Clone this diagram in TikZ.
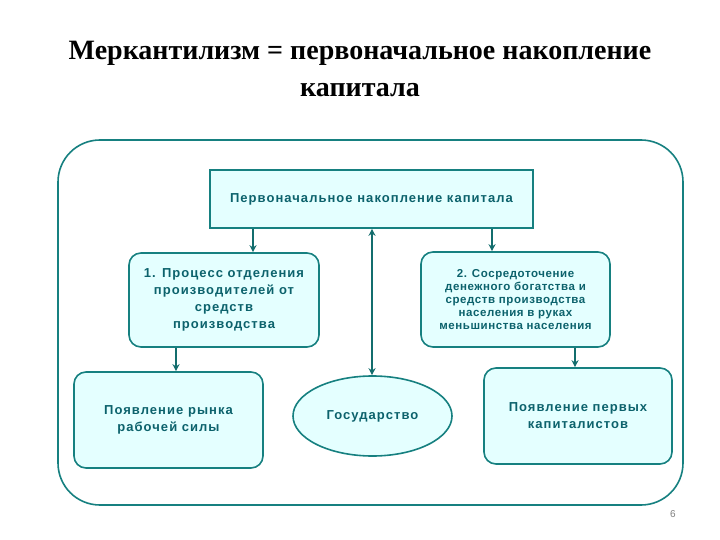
\documentclass[tikz,border=0pt]{standalone}
\usepackage{fontspec}
\setmainfont{Liberation Serif}
\setsansfont{Liberation Sans}
\newfontfamily\boxfont{Liberation Sans}[LetterSpace=8]
\newfontfamily\boxfontnarrow{Liberation Sans}[LetterSpace=5]
\usetikzlibrary{shapes.geometric,arrows.meta}
\definecolor{frameteal}{RGB}{22,128,128}
\definecolor{boxfill}{RGB}{228,255,255}
\definecolor{boxtext}{RGB}{12,98,108}

\begin{document}
\begin{tikzpicture}[x=1pt,y=-1pt,
  box/.style={draw=frameteal,line width=1.6pt,fill=boxfill,rounded corners=12pt,
    text=boxtext,align=center,inner sep=2pt,
    font=\boxfont\bfseries\fontsize{13}{17}\selectfont},
  arr/.style={draw=frameteal!85!black,line width=1.8pt,arrows={-Stealth[length=7pt,width=7pt]}},
  arrboth/.style={arr,arrows={Stealth[length=7pt,width=7pt]-Stealth[length=7pt,width=7pt]}}]
\fill[white] (0,0) rectangle (720,540);
\node[align=center,font=\rmfamily\bfseries\fontsize{28}{37}\selectfont] (title) at (360,69)
  {Меркантилизм = первоначальное накопление\\капитала};

% outer frame
\draw[frameteal,line width=1.6pt,rounded corners=42pt] (58,140) rectangle (683,505);

\node[box,rounded corners=0pt,minimum width=323pt,minimum height=58pt] (top) at (371.5,199)
  {Первоначальное накопление капитала};
\node[box,minimum width=190pt,minimum height=94pt] (b1) at (224,300)
  {1. Процесс отделения\\производителей от\\средств\\производства};
\node[box,minimum width=189pt,minimum height=95pt,font=\boxfontnarrow\bfseries\fontsize{11.5}{13}\selectfont] (b2) at (515.5,299.5)
  {2. Сосредоточение\\денежного богатства и\\средств производства\\населения в руках\\меньшинства населения};
\node[box,minimum width=189pt,minimum height=96pt] (b3) at (168.5,420)
  {Появление рынка\\рабочей силы};
\node[box,ellipse,minimum width=159pt,minimum height=80pt] (ell) at (372.5,416)
  {Государство};
\node[box,minimum width=188pt,minimum height=96pt] (b5) at (578,416)
  {Появление первых\\капиталистов};

\draw[arr] ([xshift=29pt]b1.north |- top.south) -- ([xshift=29pt]b1.north);
\draw[arr] ([xshift=-23.5pt]b2.north |- top.south) -- ([xshift=-23.5pt]b2.north);
\draw[arrboth] ([xshift=0.5pt]top.south) -- ([xshift=0.5pt]top.south |- ell.north);
\draw[arr] ([xshift=-48pt]b1.south) -- ([xshift=-48pt]b1.south |- b3.north);
\draw[arr] ([xshift=59.5pt]b2.south) -- ([xshift=59.5pt]b2.south |- b5.north);

\node[text=gray,font=\sffamily\fontsize{10}{12}\selectfont] (page) at (673,514) {6};
\end{tikzpicture}
\end{document}
